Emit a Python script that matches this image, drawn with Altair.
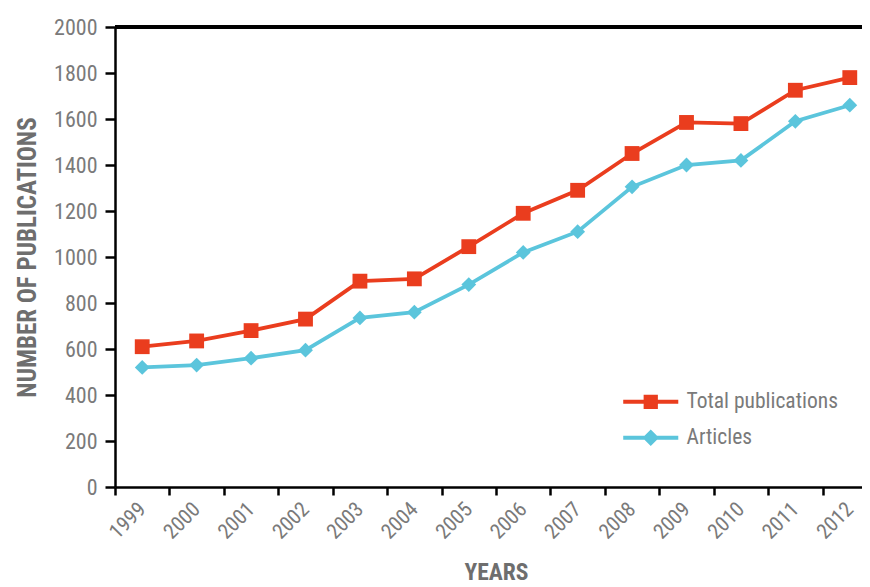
import altair as alt
import pandas as pd

years = ["1999", "2000", "2001", "2002", "2003", "2004", "2005",
         "2006", "2007", "2008", "2009", "2010", "2011", "2012"]
total_publications = [610, 635, 680, 730, 895, 905, 1045, 1190, 1290, 1450, 1585, 1580, 1725, 1780]
articles = [520, 530, 560, 595, 735, 760, 880, 1020, 1110, 1305, 1400, 1420, 1590, 1660]
series_names = ["Total publications", "Articles"]
series_colors = ["#EA3D1E", "#5BC5DC"]
y_ticks = [0, 200, 400, 600, 800, 1000, 1200, 1400, 1600, 1800, 2000]

rows = []
for name, vals in zip(series_names, [total_publications, articles]):
    for yr, v in zip(years, vals):
        rows.append({"year": yr, "value": v, "series": name})
df = pd.DataFrame(rows)

FONT = "Roboto Condensed, Roboto, sans-serif"
LABEL_COLOR = "#7a7a7a"
TITLE_COLOR = "#6e6e6e"

x_enc = alt.X(
    "year:O",
    bandPosition=0.5,
    scale=alt.Scale(type="band", domain=years, range=[0, 762], paddingInner=0, paddingOuter=0),
    axis=alt.Axis(
        title="YEARS",
        tickBand="extent",
        labelAngle=-45,
        labelAlign="right",
        labelBaseline="middle",
        labelPadding=11,
        labelFontSize=21,
        tickSize=8,
        titleX=381,
        titleY=92,
        titleBaseline="alphabetic",
        titleAlign="center",
        titleFontSize=23.5,
    ),
)
y_enc = alt.Y(
    "value:Q",
    scale=alt.Scale(domain=[0, 2000]),
    axis=alt.Axis(
        title="NUMBER OF PUBLICATIONS",
        values=y_ticks,
        format="d",
        tickSize=10,
        labelPadding=8,
        titleX=-80,
        titleY=230,
        titleAngle=270,
        titleAlign="center",
        titleBaseline="alphabetic",
        grid=False,
    ),
)
color_scale = alt.Scale(domain=series_names, range=series_colors)

lines = alt.Chart(df).mark_line(strokeWidth=3.8).encode(
    x=x_enc, y=y_enc,
    color=alt.Color("series:N", scale=color_scale, legend=None),
)

points = alt.Chart(df).mark_point(filled=True, opacity=1, size=220).encode(
    x=x_enc, y=y_enc,
    color=alt.Color("series:N", scale=color_scale, legend=None),
    shape=alt.Shape("series:N", scale=alt.Scale(domain=series_names, range=["square", "diamond"]), legend=None),
)

legend_paths = [
    "M-3.67,-0.28H3.67V0.28H-3.67Z M-0.95,-0.95H0.95V0.95H-0.95Z",
    "M-3.67,-0.28H3.67V0.28H-3.67Z M0,-1.1L1.1,0L0,1.1L-1.1,0Z",
]
legend_y = [364, 400]


def legend_layer(i):
    return alt.Chart(df).transform_filter("false").mark_point(
        filled=True, opacity=1, color=series_colors[i]
    ).encode(
        shape=alt.Shape(
            "series:N",
            scale=alt.Scale(domain=[series_names[i]], range=[legend_paths[i]]),
            legend=alt.Legend(
                title=None,
                orient="none",
                legendX=525,
                legendY=legend_y[i],
                symbolSize=225,
                symbolFillColor=series_colors[i],
                symbolStrokeWidth=0,
                symbolOpacity=1,
                labelOffset=25,
                labelLimit=400,
                labelFont=FONT,
                labelFontSize=21.5,
                labelColor=LABEL_COLOR,
                padding=0,
            ),
        ),
    )


top_rule = alt.Chart(df).mark_rule(color="black", strokeWidth=2.5).encode(
    y=alt.datum(2000)
)

chart = (
    alt.layer(top_rule, lines, points, legend_layer(0), legend_layer(1))
    .resolve_scale(shape="independent")
    .properties(
        width=747,
        height=460,
        autosize=alt.AutoSizeParams(type="none"),
        padding={"left": 107, "top": 19, "right": 0, "bottom": 100},
        background="white",
    )
    .configure_view(stroke=None)
    .configure_axis(
        domainColor="black",
        domainWidth=2.5,
        tickColor="black",
        tickWidth=2.5,
        labelFont=FONT,
        labelFontSize=22,
        labelColor=LABEL_COLOR,
        titleFont=FONT,
        titleFontSize=25,
        titleFontWeight="bold",
        titleColor=TITLE_COLOR,
    )
)

chart.save("out.html", embed_options={"renderer": "svg", "actions": False})
